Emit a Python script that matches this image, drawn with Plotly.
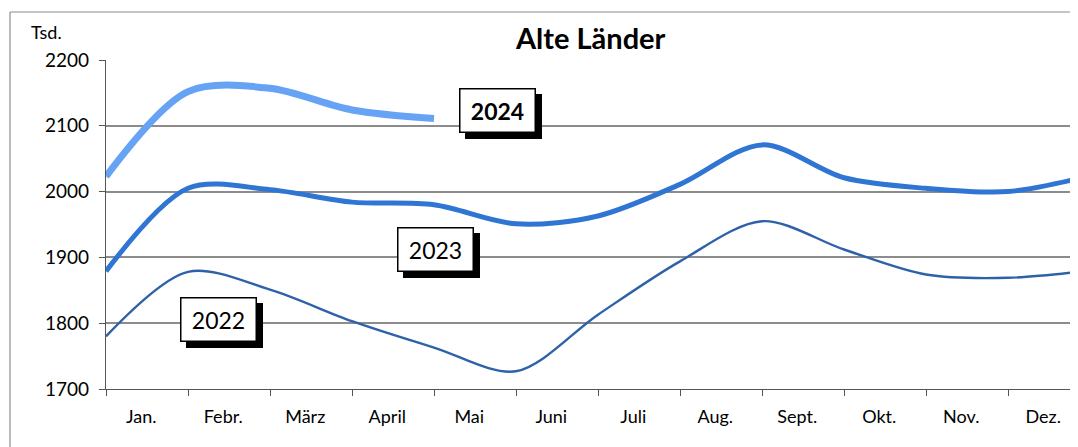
import plotly.graph_objects as go

months = ["Jan.", "Febr.", "März", "April", "Mai", "Juni", "Juli", "Aug.", "Sept.", "Okt.", "Nov.", "Dez."]
pos = list(range(13))
v2022 = [1780, 1878, 1851, 1803, 1763, 1727, 1813, 1894, 1955, 1912, 1874, 1869, 1880]
v2023 = [1879, 2005, 2003, 1984, 1980, 1951, 1963, 2011, 2071, 2021, 2005, 2000, 2024]
v2024 = [2023, 2152, 2157, 2124, 2111]
yticks = [1700, 1800, 1900, 2000, 2100, 2200]

FONT = "Lato"
fig = go.Figure()
fig.add_trace(go.Scatter(x=pos, y=v2022, mode="lines", line=dict(color="#2E62A8", width=2.4, shape="spline", smoothing=0.9), showlegend=False))
fig.add_trace(go.Scatter(x=pos, y=v2023, mode="lines", line=dict(color="#2F76D4", width=5, shape="spline", smoothing=0.9), showlegend=False))
fig.add_trace(go.Scatter(x=pos[:len(v2024)], y=v2024, mode="lines", line=dict(color="#66A3F5", width=7, shape="spline", smoothing=0.9), showlegend=False))
# invisible trace to activate label axis
fig.add_trace(go.Scatter(x=[0], y=[1700], xaxis="x2", mode="markers", marker=dict(opacity=0), showlegend=False, hoverinfo="skip"))

# page body has an 8px margin: figure is drawn from (8, 8)
OFF = 8
W, H = 1078 - OFF, 447 - OFF
L, T, B, R = 106 - OFF, 60 - OFF, 58, 0
PW, PH = W - L - R, H - T - B
xr = [0, (1078 - 106) / 82]

def px(xs):  # screen x -> paper
    return (xs - 106) / PW

def py(ys):  # screen y -> paper
    return 1 - (ys - 60) / PH

fig.update_layout(
    width=W, height=H,
    margin=dict(l=L, r=R, t=T, b=B, autoexpand=False),
    paper_bgcolor="white", plot_bgcolor="white",
    font=dict(family=FONT, color="black"),
    xaxis=dict(range=xr, tickvals=pos, ticktext=[""] * 13, ticks="outside", ticklen=6, tickcolor="#555",
               showgrid=False, showline=True, linecolor="#555", linewidth=1.3, zeroline=False, automargin=False),
    xaxis2=dict(range=xr, overlaying="x", side="bottom", tickvals=[i + 0.43 for i in range(12)], ticktext=months,
                showgrid=False, showline=False, ticks="", zeroline=False, automargin=False,
                tickfont=dict(size=18, family=FONT), ticklabelstandoff=15),
    yaxis=dict(range=[1700, 2200], tickvals=yticks, ticks="outside", ticklen=6, tickcolor="#555",
               showgrid=True, gridcolor="#8c8c8c", gridwidth=1.6, showline=True, linecolor="#555", linewidth=1.3,
               zeroline=False, automargin=False, tickfont=dict(size=19, family=FONT), ticklabelstandoff=6),
    shapes=[dict(type="line", xref="paper", yref="paper", x0=px(10), x1=1.0, y0=py(12), y1=py(12),
                 line=dict(color="#8c8c8c", width=1.2)),
            dict(type="line", xref="paper", yref="paper", x0=px(10), x1=px(10), y0=py(447), y1=py(12),
                 line=dict(color="#8c8c8c", width=1.2))],
)

def label(text, x, y, bold):
    t = "<b>%s</b>" % text if bold else text
    # drop shadow box (no text)
    fig.add_annotation(x=x, y=y, xref="x", yref="y", text="&nbsp;", showarrow=False, xshift=6, yshift=-6,
                       font=dict(size=23, family=FONT, color="black"), bgcolor="black",
                       bordercolor="black", borderwidth=1.5, width=72, height=40)
    fig.add_annotation(x=x, y=y, xref="x", yref="y", text=t, showarrow=False,
                       font=dict(size=23, family=FONT, color="black"), bgcolor="white",
                       bordercolor="black", borderwidth=1.5, width=72, height=40)

label("2024", 4.77, 2123, True)
label("2023", 4.02, 1912, False)
label("2022", 1.37, 1805, False)

fig.add_annotation(xref="paper", yref="paper", x=px(590), y=py(38), text="<b>Alte Länder</b>",
                   showarrow=False, font=dict(size=29, family=FONT, color="black"), xanchor="center", yanchor="middle")
fig.add_annotation(xref="paper", yref="paper", x=px(29), y=py(32), text="Tsd.",
                   showarrow=False, font=dict(size=18, family=FONT, color="black"), xanchor="left", yanchor="middle")

fig.write_html("out.html")
